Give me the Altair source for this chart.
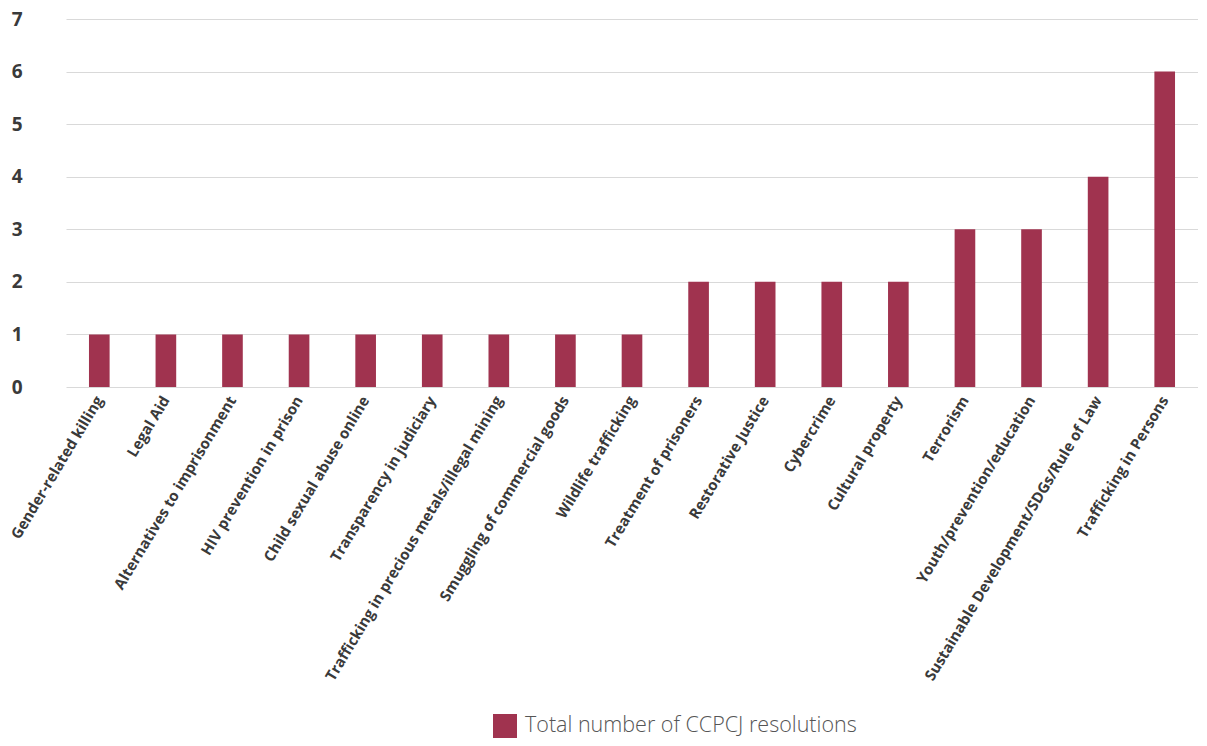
import altair as alt
import pandas as pd

categories = [
    "Gender-related killing", "Legal Aid", "Alternatives to imprisonment",
    "HIV prevention in prison", "Child sexual abuse online", "Transparency in judiciary",
    "Trafficking in precious metals/illegal mining", "Smuggling of commercial goods",
    "Wildlife trafficking", "Treatment of prisoners", "Restorative Justice", "Cybercrime",
    "Cultural property", "Terrorism", "Youth/prevention/education",
    "Sustainable Development/SDGs/Rule of Law", "Trafficking in Persons",
]
values = [1, 1, 1, 1, 1, 1, 1, 1, 1, 2, 2, 2, 2, 3, 3, 4, 6]
series_name = "Total number of CCPCJ resolutions"

df = pd.DataFrame({"category": categories, "value": values, "series": series_name})

FONT = "Open Sans"
TXT = "#3a3a3a"

chart = alt.Chart(df).mark_bar(color="#A0334F").encode(
    x=alt.X("category:N", sort=None, title=None,
            scale=alt.Scale(paddingInner=0.69, paddingOuter=0.345),
            axis=alt.Axis(labelAngle=-59, labelFont=FONT, labelFontSize=15,
                          labelFontWeight="bold", labelColor=TXT, ticks=False,
                          domain=False, labelPadding=10, labelLimit=400)),
    y=alt.Y("value:Q", title=None,
            scale=alt.Scale(domain=[0, 7]),
            axis=alt.Axis(values=list(range(8)), labelFont=FONT, labelFontSize=19,
                          labelFontWeight="bold", labelColor=TXT, ticks=False,
                          domain=False, labelPadding=44, gridColor="#d9d9d9",
                          gridWidth=1.2)),
    fill=alt.Fill("series:N", title=None,
                  scale=alt.Scale(range=["#A0334F"]),
                  legend=alt.Legend(orient="none", legendX=427, legendY=695,
                                    symbolType="square", symbolSize=576,
                                    symbolStrokeWidth=0,
                                    labelFont=FONT, labelFontSize=21.5,
                                    labelFontWeight=300, labelColor="#555555",
                                    labelLimit=500, labelOffset=8)),
).properties(
    width=1132, height=368,
    autosize=alt.AutoSizeParams(type="none"),
    padding={"left": 58, "top": 11, "right": 0, "bottom": 351},
).configure_view(stroke=None)

chart.save("out.html", embed_options={"renderer": "svg", "actions": False})
